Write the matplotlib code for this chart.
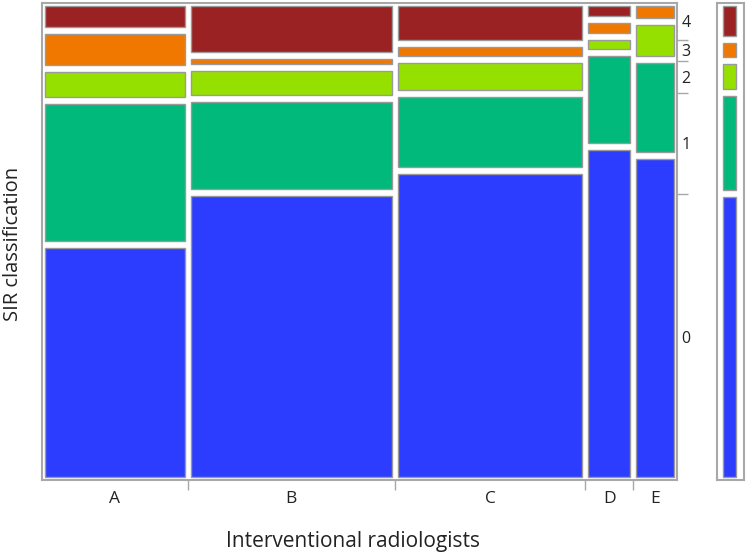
import numpy as np
import matplotlib.pyplot as plt
from matplotlib.patches import Rectangle

plt.rcParams['font.family'] = ['Open Sans', 'DejaVu Sans']

# raters and their share of all cases (column widths)
raters = ['A', 'B', 'C', 'D', 'E']
rater_share = [0.231, 0.332, 0.304, 0.070, 0.062]

# SIR grade percentages within each rater
grades = ['0', '1', '2', '3', '4']
pct_0 = [51.6, 63.4, 68.3, 73.9, 70.6]
pct_1 = [31.1, 19.6, 15.8, 19.6, 19.8]
pct_2 = [5.6, 5.4, 6.1, 2.0, 6.9]
pct_3 = [7.0, 1.3, 2.0, 2.3, 2.7]
pct_4 = [4.7, 10.3, 7.7, 2.3, 0.0]

# marginal distribution of the grades (right strip)
overall = [63.2, 21.2, 5.6, 3.2, 6.8]

colors = ['#2c3dff', '#00b97a', '#96e000', '#f07800', '#9b2222']
edge = '#9a9a9a'
txt = '#222222'
W, H = 635, 477          # main frame size in px
PAD, GAP_X, GAP_Y = 3, 6, 7


def stack(vals, height=H):
    # bottom/height of each non-empty cell, grade 0 at bottom
    vals = np.array(vals, dtype=float)
    nz = vals > 0
    avail = height - 2 * PAD - GAP_Y * (nz.sum() - 1)
    hs = vals / vals.sum() * avail
    out = []
    y = PAD
    for v, h in zip(vals, hs):
        if v > 0:
            out.append((y, h))
            y += h + GAP_Y
        else:
            out.append((y, 0))
    return out


fig = plt.figure(figsize=(7.47, 5.56), dpi=100)
ax = fig.add_axes([42 / 747, 76 / 556, W / 747, H / 556])
ax.set_xlim(0, W)
ax.set_ylim(0, H)

table = np.array([pct_0, pct_1, pct_2, pct_3, pct_4])
share = np.array(rater_share) / sum(rater_share)
avail_x = W - 2 * PAD - GAP_X * (len(raters) - 1)
x0 = PAD
centers, bounds = [], []
for j, r in enumerate(raters):
    w = share[j] * avail_x
    for k, (yb, h) in enumerate(stack(table[:, j])):
        if h > 0:
            ax.add_patch(Rectangle((x0, yb), w, h, facecolor=colors[k],
                                   edgecolor=edge, lw=1.0))
    centers.append(x0 + w / 2)
    x0 += w + GAP_X
    if j < len(raters) - 1:
        bounds.append(x0 - GAP_X / 2)

for s in ax.spines.values():
    s.set_color('#a8a8a8')
    s.set_linewidth(1.5)

ax.set_xticks(bounds)
ax.set_xticklabels([])
ax.set_xticks(centers, minor=True)
ax.set_xticklabels(raters, minor=True, fontsize=12.5, color=txt)
ax.tick_params(axis='x', which='major', length=7, color='#a8a8a8', width=1)
ax.tick_params(axis='x', which='minor', length=0, pad=8)

# right axis: grade boundaries from marginal strip
marg = stack(overall)
ybounds = [marg[k][0] + marg[k][1] + GAP_Y / 2 for k in range(len(grades) - 1)]
ycent = [b + h / 2 for b, h in marg]
ax.yaxis.tick_right()
ax.set_yticks(ybounds)
ax.set_yticklabels([])
ax.set_yticks(ycent, minor=True)
ax.set_yticklabels(grades, minor=True, fontsize=11.5, color=txt)
ax.tick_params(axis='y', which='major', length=8, color='#a8a8a8', width=1)
ax.tick_params(axis='y', which='minor', length=0, pad=3)

fig.text(353 / 747, 1 - 541 / 556, 'Interventional radiologists',
         ha='center', va='center', fontsize=15, color=txt)
fig.text(13 / 747, 1 - 244 / 556, 'SIR classification', rotation=90,
         ha='center', va='center', fontsize=14.5, color=txt)

# marginal strip
ax2 = fig.add_axes([717 / 747, 76 / 556, 27 / 747, H / 556])
ax2.set_xlim(0, 27)
ax2.set_ylim(0, H)
for k, (yb, h) in enumerate(marg):
    ax2.add_patch(Rectangle((6, yb), 13, h, facecolor=colors[k],
                            edgecolor=edge, lw=1.0))
for s in ax2.spines.values():
    s.set_color('#a8a8a8')
    s.set_linewidth(1.5)
ax2.set_xticks([])
ax2.set_yticks([])

plt.savefig('out.png', dpi=100)
